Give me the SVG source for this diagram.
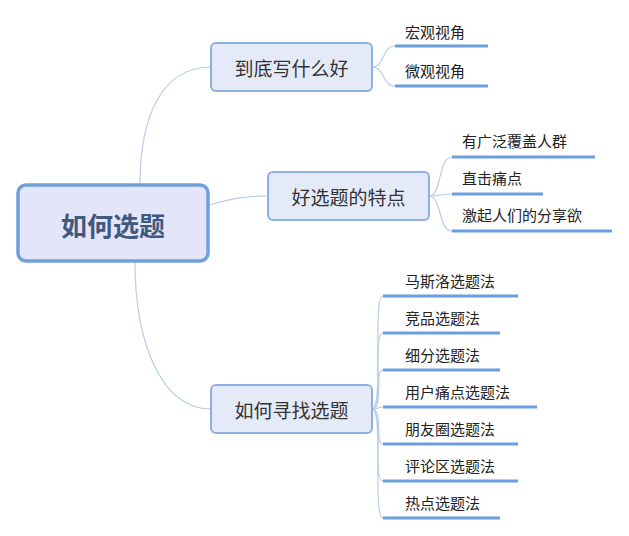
<svg xmlns="http://www.w3.org/2000/svg" width="629" height="536" viewBox="0 0 629 536">
<style>
.c{fill:none;stroke:#b9cdea;stroke-width:1.2}
.u{stroke:#6a9ede;stroke-width:3}
.b rect{fill:#e5eaf8;stroke:#8cb0e2;stroke-width:2}
.b text{font-family:"Noto Sans CJK SC",sans-serif;font-size:19px;fill:#333;text-anchor:middle;dominant-baseline:central}
.l{font-family:"Noto Sans CJK SC",sans-serif;font-size:15px;fill:#222}
</style>
<rect width="629" height="536" fill="#fff"/>
<g id="connectors">
<path class="c" d="M140,184 C140,120 160,67 211,67"/>
<path class="c" d="M209,205 C235,198 245,196 268,196"/>
<path class="c" d="M135,262 C135,340 160,409 211,409"/>
<path class="c" d="M372,67 C385,67 382,46 395,46"/>
<path class="c" d="M372,67 C385,67 382,86 395,86"/>
<path class="c" d="M429,196 C442,196 438,157 452,157"/>
<path class="c" d="M429,196 C442,196 440,194 452,194"/>
<path class="c" d="M429,196 C442,196 438,231 452,231"/>
<path class="c" d="M372,409 C384,409 372,296 383,296"/>
<path class="c" d="M372,409 C384,409 372,333 383,333"/>
<path class="c" d="M372,409 C384,409 374,370 383,370"/>
<path class="c" d="M372,409 C380,409 376,407 383,407"/>
<path class="c" d="M372,409 C384,409 374,444 383,444"/>
<path class="c" d="M372,409 C384,409 372,481 383,481"/>
<path class="c" d="M372,409 C384,409 372,518 383,518"/>
</g>
<g id="root">
<rect x="18" y="185" width="190" height="76" rx="8" fill="#e4e5f8" stroke="#6fa0dc" stroke-width="3.5"/>
<text x="113" y="224" font-family="Noto Sans CJK SC,sans-serif" font-size="26" font-weight="bold" fill="#3f5a7e" text-anchor="middle" dominant-baseline="central">如何选题</text>
</g>
<g id="b1" class="b"><rect x="211" y="43" width="161" height="48" rx="5"/><text x="291.5" y="67">到底写什么好</text></g>
<g id="b2" class="b"><rect x="268" y="172" width="161" height="48" rx="5"/><text x="348.5" y="196">好选题的特点</text></g>
<g id="b3" class="b"><rect x="211" y="385" width="161" height="48" rx="5"/><text x="291.5" y="409">如何寻找选题</text></g>
<g id="leaves">
<g id="l1"><line class="u" x1="395" y1="46" x2="488" y2="46"/><text class="l" x="405" y="38">宏观视角</text></g>
<g id="l2"><line class="u" x1="395" y1="86" x2="488" y2="86"/><text class="l" x="405" y="77">微观视角</text></g>
<g id="l3"><line class="u" x1="452" y1="157" x2="595" y2="157"/><text class="l" x="462" y="147">有广泛覆盖人群</text></g>
<g id="l4"><line class="u" x1="452" y1="194" x2="543" y2="194"/><text class="l" x="462" y="184">直击痛点</text></g>
<g id="l5"><line class="u" x1="452" y1="231" x2="612" y2="231"/><text class="l" x="462" y="221">激起人们的分享欲</text></g>
<g id="l6"><line class="u" x1="383" y1="296" x2="518" y2="296"/><text class="l" x="405" y="287">马斯洛选题法</text></g>
<g id="l7"><line class="u" x1="383" y1="333" x2="500" y2="333"/><text class="l" x="405" y="324">竞品选题法</text></g>
<g id="l8"><line class="u" x1="383" y1="370" x2="500" y2="370"/><text class="l" x="405" y="361">细分选题法</text></g>
<g id="l9"><line class="u" x1="383" y1="407" x2="537" y2="407"/><text class="l" x="405" y="398">用户痛点选题法</text></g>
<g id="l10"><line class="u" x1="383" y1="444" x2="518" y2="444"/><text class="l" x="405" y="435">朋友圈选题法</text></g>
<g id="l11"><line class="u" x1="383" y1="481" x2="518" y2="481"/><text class="l" x="405" y="472">评论区选题法</text></g>
<g id="l12"><line class="u" x1="383" y1="518" x2="500" y2="518"/><text class="l" x="405" y="509">热点选题法</text></g>
</g>
</svg>
